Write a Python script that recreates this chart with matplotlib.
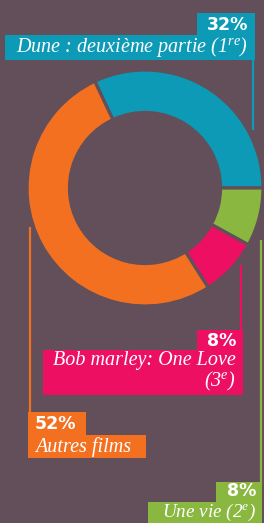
import matplotlib
matplotlib.use("Agg")
import matplotlib.pyplot as plt
from matplotlib.patches import Rectangle

# ---- data ----
films = ["Dune : deuxième partie (1$^{\\mathrm{re}}$)", "Une vie (2$^{\\mathrm{e}}$)",
         "Bob marley: One Love\n(3$^{\\mathrm{e}}$)", "Autres films"]
shares = [32, 8, 8, 52]
colors = ["#0c9ab6", "#8ab73f", "#ec0f62", "#f37021"]
bg = "#624f5a"

SERIF = "Liberation Serif"
plt.rcParams['mathtext.fontset'] = 'custom'
plt.rcParams['mathtext.rm'] = SERIF + ':italic'
plt.rcParams['mathtext.it'] = SERIF + ':italic'

W, H = 264, 523
fig = plt.figure(figsize=(W / 100, H / 100), dpi=100, facecolor=bg)

# overlay axes in pixel coordinates
ov = fig.add_axes([0, 0, 1, 1])
ov.set_xlim(0, W)
ov.set_ylim(H, 0)
ov.axis("off")

# donut
cx, cy, r = 145, 188, 118
pa = fig.add_axes([(cx - r) / W, 1 - (cy + r) / H, 2 * r / W, 2 * r / H])
pa.pie(shares, colors=colors, startangle=115.2,
       counterclock=False, radius=1,
       wedgeprops=dict(width=0.36, edgecolor=bg, linewidth=2.3))
pa.set_xlim(-1, 1)
pa.set_ylim(-1, 1)
pa.set_aspect("equal")
pa.axis("off")

pct_font = dict(family="DejaVu Sans", weight="bold", size=12.5, color="white")
lab_font = dict(family=SERIF, style="italic", size=14.5, color="white")

def box(x0, y0, x1, y1, c):
    ov.add_patch(Rectangle((x0, y0), x1 - x0, y1 - y0, facecolor=c, edgecolor="none"))

def vline(x, y0, y1, c):
    ov.plot([x, x], [y0, y1], color=c, lw=1.6, solid_capstyle="butt")

# Dune (blue)
c = colors[0]
vline(253, 58, 130, c)
box(197, 13, 255, 35, c)
box(5, 35, 255, 60, c)
ov.text(248, 25, f"{shares[0]}%", ha="right", va="center", **pct_font)
ov.text(248, 47, films[0], ha="right", va="center", **lab_font)

# Une vie (green)
c = colors[1]
vline(261, 240, 485, c)
box(216, 482, 262, 502, c)
box(148, 502, 262, 523, c)
ov.text(256, 491, f"{shares[1]}%", ha="right", va="center", **pct_font)
ov.text(256, 512.5, films[1], ha="right", va="center",
        **{**lab_font, "size": 13.8})

# Bob marley (pink)
c = colors[2]
vline(241, 265, 332, c)
box(197, 330, 243, 350, c)
box(43, 350, 243, 395, c)
ov.text(236, 341, f"{shares[2]}%", ha="right", va="center", **pct_font)
ov.text(236, 372, films[2], ha="right", va="center", linespacing=1.05, multialignment="right", **lab_font)

# Autres films (orange)
c = colors[3]
vline(30, 227, 414, c)
box(28, 412, 86, 435, c)
box(28, 435, 146, 458, c)
ov.text(35, 424, f"{shares[3]}%", ha="left", va="center", **pct_font)
ov.text(35, 447, films[3], ha="left", va="center", **lab_font)

fig.savefig("out.png", dpi=100, facecolor=bg)
